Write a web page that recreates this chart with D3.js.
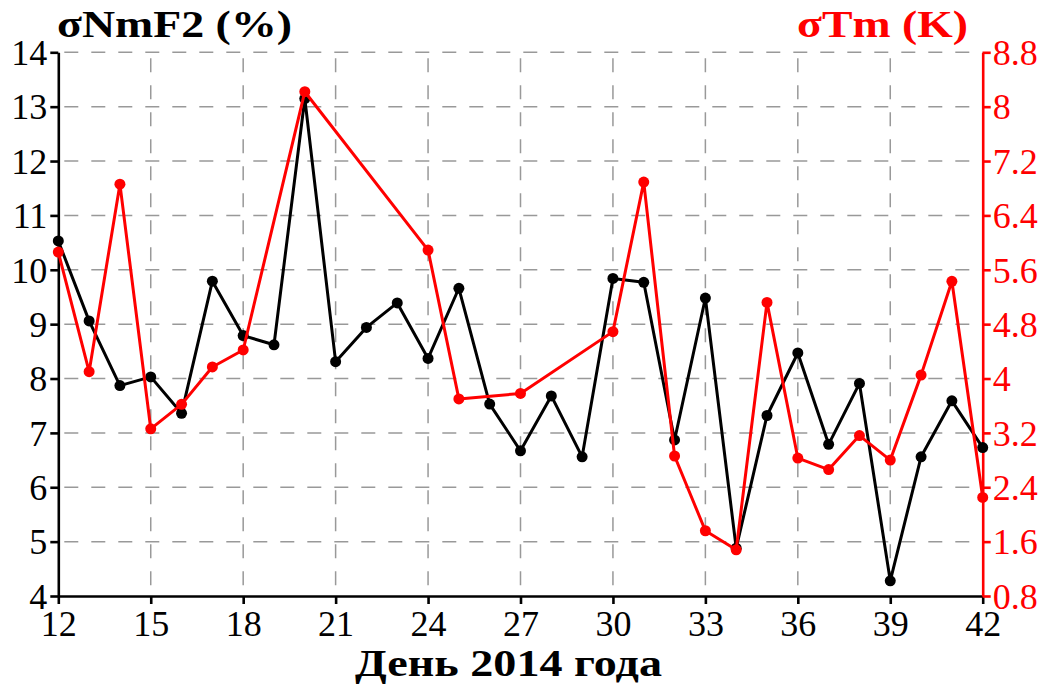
<!DOCTYPE html>
<html>
<head>
<meta charset="utf-8">
<script src="https://cdn.jsdelivr.net/npm/d3@7"></script>
<style>
  body { margin: 0; background: #fff; }
  svg { display: block; }
  text { font-family: "Liberation Serif", "Times New Roman", serif; }
</style>
</head>
<body>
<svg width="1045" height="689"></svg>
<script>
// sigma NmF2 (%), black, left axis
var nmDays = [12,13,14,15,16,17,18,19,20,21,22,23,24,25,26,27,28,29,30,31,32,33,34,35,36,37,38,39,40,41,42];
var nmValues = [10.53,9.06,7.87,8.03,7.36,9.79,8.79,8.62,13.15,8.31,8.94,9.39,8.37,9.66,7.53,6.67,7.68,6.56,9.84,9.77,6.87,9.48,4.88,7.32,8.47,6.79,7.91,4.28,6.56,7.59,6.73];

// sigma Tm (K), red, right axis
var tmDays = [12,13,14,15,16,17,18,20,24,25,27,30,31,32,33,34,35,36,37,38,39,40,41,42];
var tmValues = [5.86,4.10,6.86,3.26,3.62,4.17,4.42,8.22,5.89,3.70,3.78,4.69,6.89,2.86,1.76,1.48,5.12,2.83,2.66,3.16,2.80,4.05,5.43,2.25];

var dayTicks = [12,15,18,21,24,27,30,33,36,39,42];
var leftTicks = [4,5,6,7,8,9,10,11,12,13,14];
var rightTicks = [0.8,1.6,2.4,3.2,4,4.8,5.6,6.4,7.2,8,8.8];

var margin = {left: 58.3, right: 62.3, top: 52.3, bottom: 93};
var width = 1045, height = 689;

var svg = d3.select('svg');

var x = d3.scaleLinear().domain([12, 42]).range([margin.left, width - margin.right]);
var yL = d3.scaleLinear().domain([4, 14]).range([height - margin.bottom, margin.top]);
var yR = d3.scaleLinear().domain([0.8, 8.8]).range([height - margin.bottom, margin.top]);

var x0 = margin.left, x1 = width - margin.right;
var y0 = height - margin.bottom, y1 = margin.top;

// grid
var grid = svg.append('g')
  .attr('stroke', '#999')
  .attr('stroke-width', 1.5)
  .attr('stroke-dasharray', '14,13');

grid.selectAll('line.h')
  .data(leftTicks.slice(1))
  .enter()
  .append('line')
  .attr('class', 'h')
  .attr('x1', x0 + 6).attr('x2', x1)
  .attr('y1', yL).attr('y2', yL);

grid.selectAll('line.v')
  .data(dayTicks.slice(1, -1))
  .enter()
  .append('line')
  .attr('class', 'v')
  .attr('x1', x).attr('x2', x)
  .attr('y1', y1 + 6).attr('y2', y0);

// axes
var axisBottom = d3.axisBottom(x).tickValues(dayTicks).tickSize(8).tickPadding(6).tickSizeOuter(0);
var axisLeft = d3.axisLeft(yL).tickValues(leftTicks).tickSize(8).tickPadding(3).tickSizeOuter(0);
var axisRight = d3.axisRight(yR).tickValues(rightTicks).tickSize(8).tickPadding(2).tickSizeOuter(0)
  .tickFormat(d3.format('~g'));

function styleAxis(g, color) {
  g.select('.domain').attr('stroke', color).attr('stroke-width', 2.6);
  g.selectAll('.tick line').attr('stroke', color).attr('stroke-width', 2.6);
  g.selectAll('.tick text')
    .attr('fill', color)
    .style('font-family', '"Liberation Serif", serif')
    .style('font-size', '36px');
}

svg.append('g')
  .attr('transform', 'translate(0,' + y0 + ')')
  .call(axisBottom)
  .call(styleAxis, '#000');

svg.append('g')
  .attr('transform', 'translate(' + x0 + ',0)')
  .call(axisLeft)
  .call(styleAxis, '#000')
  .selectAll('.tick text').attr('dy', '0.34em');

svg.append('g')
  .attr('transform', 'translate(' + x1 + ',0)')
  .call(axisRight)
  .call(styleAxis, '#ff0000')
  .selectAll('.tick text').attr('dy', '0.34em');

// series
function drawSeries(days, values, yScale, color) {
  var pts = days.map(function (d, i) { return [d, values[i]]; });
  var line = d3.line()
    .x(function (p) { return x(p[0]); })
    .y(function (p) { return yScale(p[1]); });
  svg.append('path')
    .datum(pts)
    .attr('fill', 'none')
    .attr('stroke', color)
    .attr('stroke-width', 3)
    .attr('stroke-linejoin', 'round')
    .attr('d', line);
  svg.append('g').selectAll('circle')
    .data(pts)
    .enter()
    .append('circle')
    .attr('cx', function (p) { return x(p[0]); })
    .attr('cy', function (p) { return yScale(p[1]); })
    .attr('r', 5.5)
    .attr('fill', color);
}

drawSeries(nmDays, nmValues, yL, '#000');
drawSeries(tmDays, tmValues, yR, '#ff0000');

// titles
svg.append('text')
  .attr('x', 57)
  .attr('y', 37)
  .attr('textLength', 235)
  .attr('lengthAdjust', 'spacingAndGlyphs')
  .style('font-size', '37px')
  .style('font-weight', 'bold')
  .text('σNmF2 (%)');

svg.append('text')
  .attr('x', 797)
  .attr('y', 37)
  .attr('textLength', 171)
  .attr('lengthAdjust', 'spacingAndGlyphs')
  .attr('fill', '#ff0000')
  .style('font-size', '37px')
  .style('font-weight', 'bold')
  .text('σTm (K)');

svg.append('text')
  .attr('x', 355)
  .attr('y', 676)
  .attr('textLength', 307)
  .attr('lengthAdjust', 'spacingAndGlyphs')
  .style('font-size', '38px')
  .style('font-weight', 'bold')
  .text('День 2014 года');
</script>
</body>
</html>
